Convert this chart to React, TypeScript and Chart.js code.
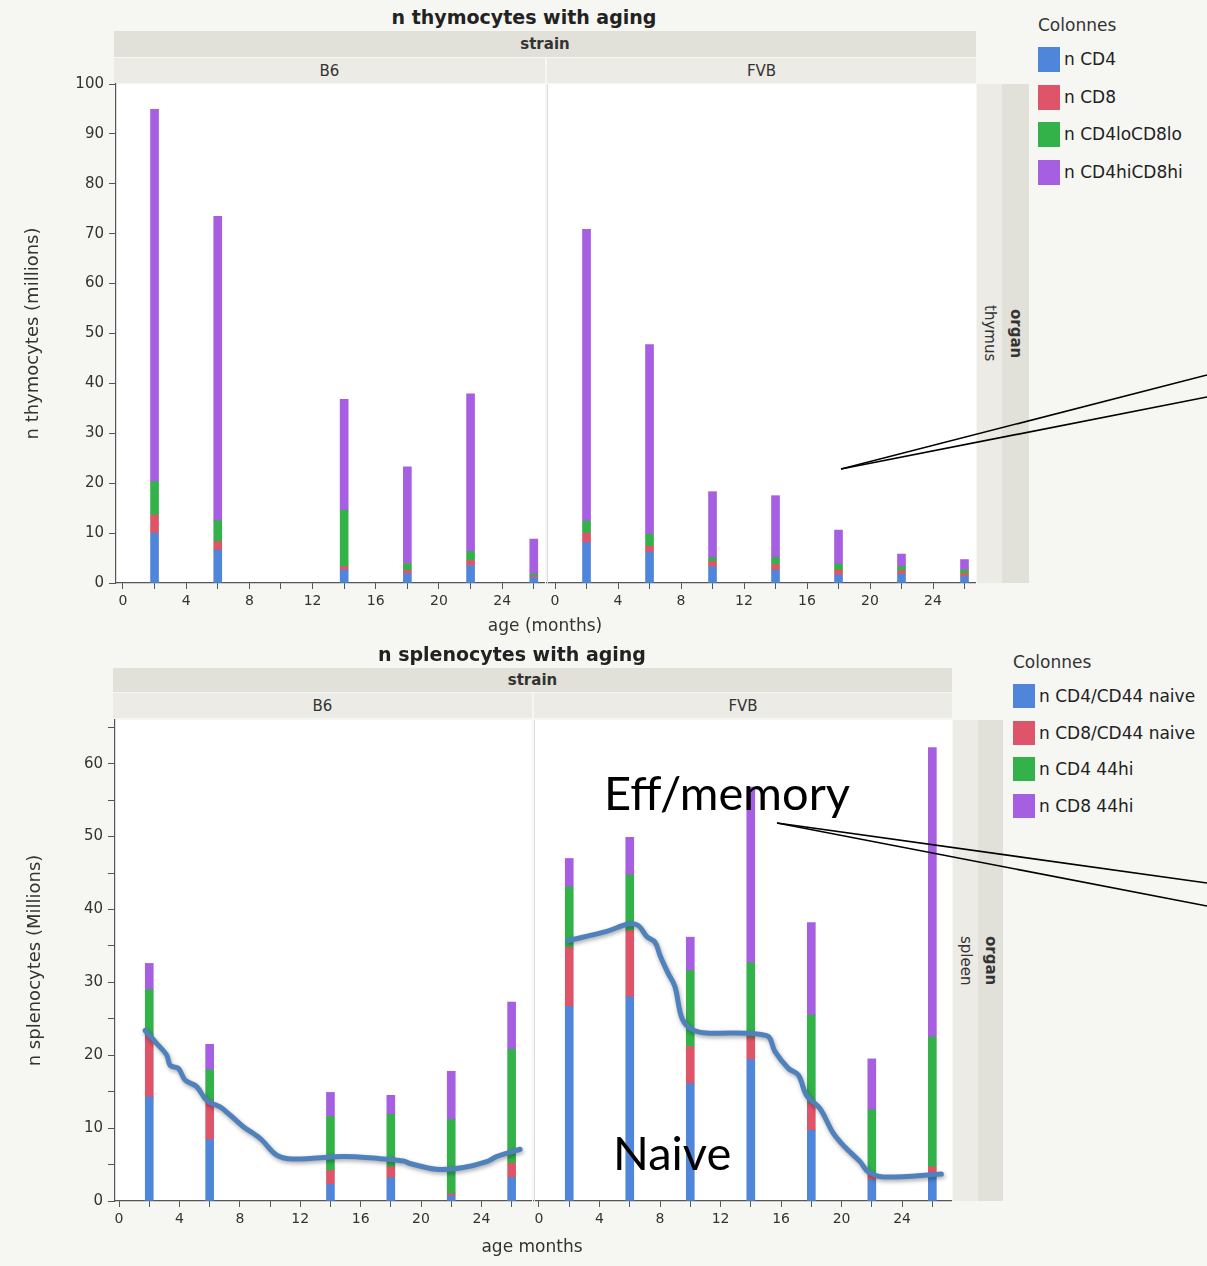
import React, { useEffect, useRef } from "react";
import { Chart, registerables } from "chart.js";

Chart.register(...registerables);

// ---------- data ----------
const THYMUS_SERIES = ["n CD4", "n CD8", "n CD4loCD8lo", "n CD4hiCD8hi"];
const SPLEEN_SERIES = ["n CD4/CD44 naive", "n CD8/CD44 naive", "n CD4 44hi", "n CD8 44hi"];
const SERIES_COLORS = ["#4f86d9", "#de5468", "#33b24a", "#a55fe0"];

const MONTHS_B6 = [2, 6, 14, 18, 22, 26];
const MONTHS_FVB = [2, 6, 10, 14, 18, 22, 26];

// thymus (millions)
const THY_B6_CD4 = [10.0, 6.6, 2.6, 1.9, 3.5, 1.1];
const THY_B6_CD8 = [3.6, 1.7, 0.7, 0.7, 1.0, 0.3];
const THY_B6_LO = [6.7, 4.2, 11.3, 1.3, 1.8, 0.4];
const THY_B6_HI = [74.6, 61.0, 22.2, 19.4, 31.6, 7.0];

const THY_FVB_CD4 = [8.1, 6.2, 3.3, 2.6, 1.6, 1.8, 1.3];
const THY_FVB_CD8 = [1.9, 1.2, 1.0, 1.1, 1.0, 0.7, 0.6];
const THY_FVB_LO = [2.4, 2.4, 0.8, 1.4, 1.2, 0.8, 0.7];
const THY_FVB_HI = [58.5, 38.0, 13.2, 12.4, 6.8, 2.5, 2.1];

// spleen (millions)
const SPL_B6_CD4N = [14.3, 8.4, 2.3, 3.2, 0.7, 3.2];
const SPL_B6_CD8N = [8.4, 5.4, 1.9, 1.5, 0.3, 2.0];
const SPL_B6_CD4HI = [6.3, 4.2, 7.4, 7.2, 10.2, 15.6];
const SPL_B6_CD8HI = [3.6, 3.5, 3.3, 2.6, 6.6, 6.5];

const SPL_FVB_CD4N = [26.7, 28.0, 16.1, 19.4, 9.7, 2.9, 3.3];
const SPL_FVB_CD8N = [8.1, 9.1, 5.1, 3.1, 3.7, 0.9, 1.4];
const SPL_FVB_CD4HI = [8.3, 7.6, 10.4, 10.2, 12.1, 8.7, 17.8];
const SPL_FVB_CD8HI = [3.9, 5.2, 4.6, 24.1, 12.7, 7.0, 39.7];

// hand-drawn "naive" trace (month, millions)
const TRACE_B6_X = [1.72, 2.5, 3.16, 3.38, 3.93, 4.37, 5.14, 5.8, 6.69, 7.35, 8.23, 9.34, 10.44, 11.54, 14.85, 17.06, 18.83, 19.27, 21.04, 22.8, 24.35, 25.0, 26.56];
const TRACE_B6_Y = [23.4, 21.6, 20.0, 18.6, 18.2, 16.6, 15.7, 13.8, 12.9, 11.8, 10.2, 8.6, 6.3, 5.75, 6.1, 5.85, 5.5, 5.15, 4.35, 4.6, 5.4, 6.1, 7.1];
const TRACE_FVB_X = [1.94, 4.47, 5.9, 6.56, 7.12, 7.67, 8.0, 8.55, 8.99, 9.43, 9.98, 10.86, 15.05, 15.6, 16.48, 17.14, 17.69, 18.57, 19.45, 20.22, 21.22, 21.77, 22.76, 26.6];
const TRACE_FVB_Y = [35.75, 37.0, 38.0, 37.8, 36.3, 35.5, 33.7, 31.2, 29.4, 25.2, 23.7, 23.1, 22.7, 20.5, 18.2, 17.3, 14.5, 12.7, 9.3, 7.4, 5.4, 4.0, 3.3, 3.7];

const X_TICKS = [0, 2, 4, 6, 8, 10, 12, 14, 16, 18, 20, 22, 24, 26];
const THY_Y_TICKS = [0, 10, 20, 30, 40, 50, 60, 70, 80, 90, 100];
const SPL_Y_TICKS = [0, 5, 10, 15, 20, 25, 30, 35, 40, 45, 50, 55, 60, 65];

// ---------- styling ----------
const FONT = "'DejaVu Sans', sans-serif";
const TEXT = "#333";
const AXIS = "#555";
const BG = "#f6f6f3";
const STRIP_DARK = "#e2e1d9";
const STRIP_LIGHT = "#ecebe5";

type Spec = {
  months: number[];
  series: number[][];
  labels: string[];
  yMax: number;
  yTicks: number[];
  yLabelStep: number;
  xMin: number;
  xMax: number;
  showY: boolean;
  yTitle?: string;
  yTitlePad?: number;
  yWidth: number;
  padTop: number;
  trace?: { x: number[]; y: number[] };
};

const plotBg = {
  id: "plotBg",
  beforeDraw(chart: any) {
    const { ctx, chartArea: a } = chart;
    ctx.save();
    ctx.fillStyle = "#ffffff";
    ctx.fillRect(a.left, a.top, a.right - a.left, a.bottom - a.top);
    ctx.restore();
  },
};

const traceShadow = {
  id: "traceShadow",
  beforeDatasetDraw(chart: any, args: any) {
    if (chart.data.datasets[args.index].type === "line") {
      const ctx = chart.ctx;
      ctx.save();
      ctx.shadowColor = "rgba(0,0,0,0.35)";
      ctx.shadowBlur = 4;
      ctx.shadowOffsetX = 1;
      ctx.shadowOffsetY = 2;
    }
  },
  afterDatasetDraw(chart: any, args: any) {
    if (chart.data.datasets[args.index].type === "line") chart.ctx.restore();
  },
};

function buildConfig(s: Spec): any {
  const datasets: any[] = s.series.map((vals, i) => ({
    type: "bar",
    label: s.labels[i],
    data: s.months.map((m, j) => ({ x: m, y: vals[j] })),
    backgroundColor: SERIES_COLORS[i],
    borderWidth: 0,
    barThickness: 8,
    xAxisID: "x",
    yAxisID: "y",
  }));
  if (s.trace) {
    const t = s.trace;
    datasets.push({
      type: "line",
      label: "trace",
      data: t.x.map((x, j) => ({ x, y: t.y[j] })),
      borderColor: "#4f81bd",
      borderWidth: 5,
      pointRadius: 0,
      tension: 0.35,
      fill: false,
      borderCapStyle: "round",
      borderJoinStyle: "round",
      xAxisID: "x",
      yAxisID: "y2",
      order: -1,
    });
  }
  return {
    type: "bar",
    data: { datasets },
    plugins: [plotBg, traceShadow],
    options: {
      animation: false,
      responsive: false,
      maintainAspectRatio: false,
      layout: { padding: { top: s.padTop, left: 0, right: 0, bottom: 0 } },
      plugins: { legend: { display: false }, tooltip: { enabled: false }, title: { display: false } },
      scales: {
        x: {
          type: "linear",
          offset: false,
          min: s.xMin,
          max: s.xMax,
          stacked: true,
          afterBuildTicks: (sc: any) => {
            sc.ticks = X_TICKS.map((v) => ({ value: v }));
          },
          afterFit: (sc: any) => {
            sc.height = 40;
          },
          ticks: {
            autoSkip: false,
            maxRotation: 0,
            padding: 4,
            color: TEXT,
            font: { family: FONT, size: 14 },
            callback: (v: any) => (Number(v) % 4 === 0 ? String(v) : ""),
          },
          grid: { offset: false, drawOnChartArea: false, drawTicks: true, tickLength: 6, tickColor: AXIS, color: AXIS },
          border: { color: AXIS, width: 1.2 },
        },
        y: {
          type: "linear",
          position: "left",
          min: 0,
          max: s.yMax,
          stacked: true,
          afterBuildTicks: (sc: any) => {
            sc.ticks = s.yTicks.map((v) => ({ value: v }));
          },
          afterFit: (sc: any) => {
            sc.width = s.yWidth;
          },
          ticks: {
            display: s.showY,
            padding: 5,
            color: TEXT,
            font: { family: FONT, size: 15 },
            callback: (v: any) => (Number(v) % s.yLabelStep === 0 ? String(v) : ""),
          },
          grid: { drawOnChartArea: false, drawTicks: s.showY, tickLength: 7, tickColor: AXIS },
          border: { color: s.showY ? AXIS : "#dedede", width: s.showY ? 1.2 : 1 },
          title: {
            display: !!s.yTitle,
            text: s.yTitle || "",
            color: TEXT,
            font: { family: FONT, size: 18 },
            padding: { top: s.yTitlePad || 0, bottom: 0 },
          },
        },
        y2: { type: "linear", display: false, min: 0, max: s.yMax },
      },
    },
  };
}

function ChartBox({ spec, left, top, width, height }: { spec: Spec; left: number; top: number; width: number; height: number }) {
  const ref = useRef<HTMLCanvasElement>(null);
  useEffect(() => {
    const chart = new Chart(ref.current as HTMLCanvasElement, buildConfig(spec));
    return () => chart.destroy();
  }, []);
  return (
    <canvas
      ref={ref}
      width={width}
      height={height}
      style={{ position: "absolute", left, top, width, height }}
    />
  );
}

function Box({ l, t, w, h, bg, children, style }: any) {
  return (
    <div
      style={{
        position: "absolute",
        left: l,
        top: t,
        width: w,
        height: h,
        background: bg,
        display: "flex",
        alignItems: "center",
        justifyContent: "center",
        color: TEXT,
        fontSize: 15,
        whiteSpace: "nowrap",
        ...style,
      }}
    >
      {children}
    </div>
  );
}

function VStrip({ l, t, w, h, bg, text, bold }: any) {
  return (
    <Box l={l} t={t} w={w} h={h} bg={bg}>
      <span style={{ writingMode: "vertical-rl", fontWeight: bold ? "bold" : "normal", fontSize: 15 }}>{text}</span>
    </Box>
  );
}

function Legend({ x, y, labels, sq, gap }: { x: number; y: number; labels: string[]; sq: number; gap: number }) {
  return (
    <>
      <div style={{ position: "absolute", left: x, top: y - 12, height: 24, lineHeight: "24px", fontSize: 17, color: TEXT }}>Colonnes</div>
      {labels.map((lab, i) => (
        <React.Fragment key={lab}>
          <div
            style={{
              position: "absolute",
              left: x,
              top: y + 22 + i * gap,
              width: 22,
              height: sq,
              background: SERIES_COLORS[i],
            }}
          />
          <div
            style={{
              position: "absolute",
              left: x + 26,
              top: y + 22 + i * gap,
              height: sq,
              lineHeight: sq + "px",
              fontSize: 17,
              color: "#222",
              whiteSpace: "nowrap",
            }}
          >
            {lab}
          </div>
        </React.Fragment>
      ))}
    </>
  );
}

export default function App() {
  const thyB6: Spec = {
    months: MONTHS_B6,
    series: [THY_B6_CD4, THY_B6_CD8, THY_B6_LO, THY_B6_HI],
    labels: THYMUS_SERIES,
    yMax: 100,
    yTicks: THY_Y_TICKS,
    yLabelStep: 10,
    xMin: -0.44,
    xMax: 26.71,
    showY: true,
    yTitle: "n thymocytes (millions)",
    yTitlePad: 23,
    yWidth: 116,
    padTop: 14,
  };
  const thyFVB: Spec = {
    months: MONTHS_FVB,
    series: [THY_FVB_CD4, THY_FVB_CD8, THY_FVB_LO, THY_FVB_HI],
    labels: THYMUS_SERIES,
    yMax: 100,
    yTicks: THY_Y_TICKS,
    yLabelStep: 10,
    xMin: -0.51,
    xMax: 26.73,
    showY: false,
    yWidth: 6,
    padTop: 14,
  };
  const splB6: Spec = {
    months: MONTHS_B6,
    series: [SPL_B6_CD4N, SPL_B6_CD8N, SPL_B6_CD4HI, SPL_B6_CD8HI],
    labels: SPLEEN_SERIES,
    yMax: 66,
    yTicks: SPL_Y_TICKS,
    yLabelStep: 10,
    xMin: -0.27,
    xMax: 27.35,
    showY: true,
    yTitle: "n splenocytes (Millions)",
    yTitlePad: 25,
    yWidth: 115,
    padTop: 14,
    trace: { x: TRACE_B6_X, y: TRACE_B6_Y },
  };
  const splFVB: Spec = {
    months: MONTHS_FVB,
    series: [SPL_FVB_CD4N, SPL_FVB_CD8N, SPL_FVB_CD4HI, SPL_FVB_CD8HI],
    labels: SPLEEN_SERIES,
    yMax: 66,
    yTicks: SPL_Y_TICKS,
    yLabelStep: 10,
    xMin: -0.33,
    xMax: 27.3,
    showY: false,
    yWidth: 6,
    padTop: 14,
    trace: { x: TRACE_FVB_X, y: TRACE_FVB_Y },
  };

  return (
    <div
      style={{
        position: "absolute",
        left: 0,
        top: 0,
        width: 1207,
        height: 1266,
        background: BG,
        overflow: "hidden",
        fontFamily: FONT,
      }}
    >
      {/* ---------- thymus panel ---------- */}
      <Box l={324} t={5} w={400} h={24} style={{ fontWeight: "bold", fontSize: 19, color: "#222" }}>
        n thymocytes with aging
      </Box>
      <Box l={114} t={31} w={862} h={26} bg={STRIP_DARK} style={{ fontWeight: "bold" }}>strain</Box>
      <Box l={114} t={58} w={431} h={25} bg={STRIP_LIGHT}>B6</Box>
      <Box l={547} t={58} w={429} h={25} bg={STRIP_LIGHT}>FVB</Box>
      <VStrip l={977} t={84} w={25} h={499} bg={STRIP_LIGHT} text="thymus" />
      <VStrip l={1002} t={84} w={27} h={499} bg={STRIP_DARK} text="organ" bold />
      <ChartBox spec={thyB6} left={0} top={70} width={545} height={553} />
      <ChartBox spec={thyFVB} left={541} top={70} width={435} height={553} />
      <Box l={445} t={613} w={200} h={24} style={{ fontSize: 17 }}>age (months)</Box>
      <Legend x={1038} y={25} labels={THYMUS_SERIES} sq={25} gap={37.7} />

      {/* ---------- spleen panel ---------- */}
      <Box l={312} t={642} w={400} h={24} style={{ fontWeight: "bold", fontSize: 19, color: "#222" }}>
        n splenocytes with aging
      </Box>
      <Box l={113} t={668} w={839} h={24} bg={STRIP_DARK} style={{ fontWeight: "bold" }}>strain</Box>
      <Box l={113} t={693} w={419} h={25} bg={STRIP_LIGHT}>B6</Box>
      <Box l={534} t={693} w={418} h={25} bg={STRIP_LIGHT}>FVB</Box>
      <VStrip l={953} t={720} w={25} h={481} bg={STRIP_LIGHT} text="spleen" />
      <VStrip l={978} t={720} w={25} h={481} bg={STRIP_DARK} text="organ" bold />
      <ChartBox spec={splB6} left={0} top={706} width={532} height={535} />
      <ChartBox spec={splFVB} left={528} top={706} width={424} height={535} />
      <Box l={432} t={1234} w={200} h={24} style={{ fontSize: 17 }}>age months</Box>
      <Legend x={1013} y={662} labels={SPLEEN_SERIES} sq={24} gap={36.7} />

      {/* ---------- annotations ---------- */}
      <div style={{ position: "absolute", left: 604, top: 769, fontFamily: "Lato, sans-serif", fontSize: 47, lineHeight: "47px", color: "#000", whiteSpace: "nowrap" }}>
        Eff/memory
      </div>
      <div style={{ position: "absolute", left: 613, top: 1129, fontFamily: "Lato, sans-serif", fontSize: 47, lineHeight: "47px", color: "#000", whiteSpace: "nowrap" }}>
        Naive
      </div>
      <svg width={1207} height={1266} style={{ position: "absolute", left: 0, top: 0, pointerEvents: "none" }}>
        <g stroke="#000" strokeWidth={1.6} fill="none">
          <line x1={841} y1={469} x2={1207} y2={375} />
          <line x1={841} y1={469} x2={1207} y2={397} />
          <line x1={777} y1={823} x2={1207} y2={883} />
          <line x1={777} y1={823} x2={1207} y2={906} />
        </g>
      </svg>
    </div>
  );
}
